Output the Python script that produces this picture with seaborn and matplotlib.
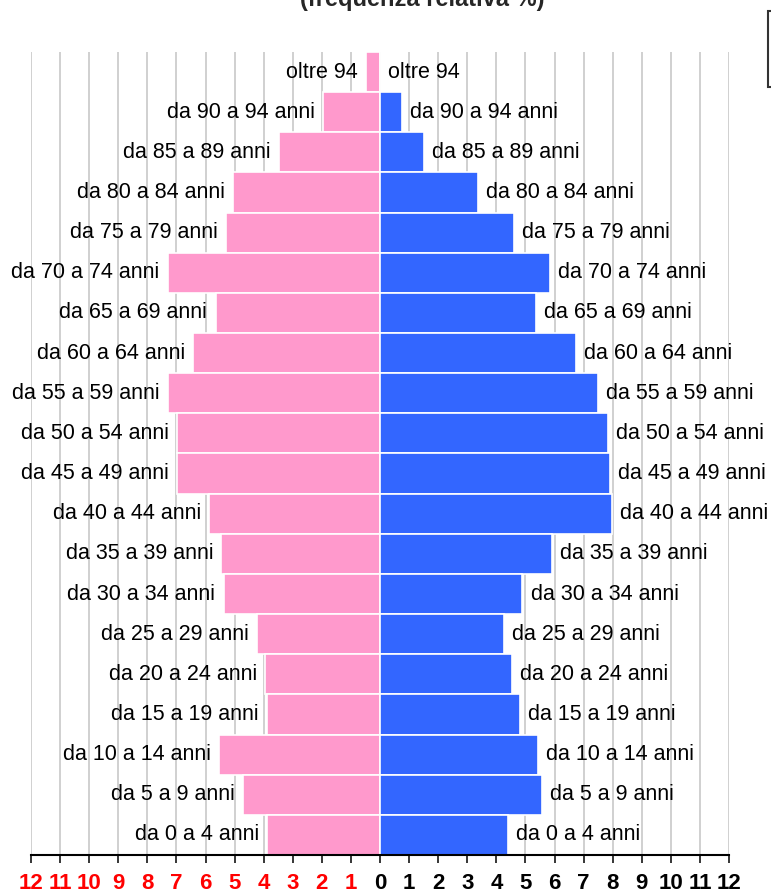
import matplotlib
matplotlib.use("Agg")
import matplotlib.pyplot as plt
import matplotlib.patches as mpatches
import seaborn as sns
import pandas as pd

# classi di età, dall'alto verso il basso
eta = ["oltre 94", "da 90 a 94 anni", "da 85 a 89 anni", "da 80 a 84 anni",
       "da 75 a 79 anni", "da 70 a 74 anni", "da 65 a 69 anni", "da 60 a 64 anni",
       "da 55 a 59 anni", "da 50 a 54 anni", "da 45 a 49 anni", "da 40 a 44 anni",
       "da 35 a 39 anni", "da 30 a 34 anni", "da 25 a 29 anni", "da 20 a 24 anni",
       "da 15 a 19 anni", "da 10 a 14 anni", "da 5 a 9 anni", "da 0 a 4 anni"]

# frequenza relativa %
femmine = [0.48, 1.95, 3.46, 5.04, 5.30, 7.30, 5.65, 6.42, 7.30, 6.97,
           6.97, 5.87, 5.45, 5.37, 4.22, 3.94, 3.87, 5.52, 4.70, 3.87]
maschi = [0.0, 0.76, 1.51, 3.37, 4.60, 5.84, 5.35, 6.74, 7.49, 7.83,
          7.90, 7.98, 5.90, 4.89, 4.25, 4.53, 4.80, 5.42, 5.57, 4.39]

tick_valori = list(range(-12, 13))

rosa = "#FF99CC"
blu = "#3366FF"

df = pd.DataFrame({
    "eta": eta + eta,
    "valore": [-v for v in femmine] + maschi,
    "sesso": ["Femmine"] * len(eta) + ["Maschi"] * len(eta),
})

sns.set_style("white")
plt.rcParams["font.family"] = ["Liberation Sans", "DejaVu Sans"]

fig = plt.figure(figsize=(7.71, 8.96), dpi=100)
ax = fig.add_axes([31 / 771, 1 - 855 / 896, 698 / 771, 803 / 896])

sns.barplot(data=df, y="eta", x="valore", hue="sesso", order=eta,
            palette={"Femmine": rosa, "Maschi": blu}, dodge=False, saturation=1,
            width=1.0, edgecolor="white", linewidth=1.2, orient="h", ax=ax)

ax.set_xlim(-12, 12)
ax.set_ylim(len(eta) - 0.5, -0.5)

# etichette accanto alle barre
for i, nome in enumerate(eta):
    ax.annotate(nome, xy=(-femmine[i], i), xytext=(-6, 0), textcoords="offset points",
                ha="right", va="center", fontsize=15.5, color="black")
    ax.annotate(nome, xy=(maschi[i], i), xytext=(6, 0), textcoords="offset points",
                ha="left", va="center", fontsize=15.5, color="black")

ax.set_xticks(tick_valori)
ax.set_xticklabels([str(abs(v)) for v in tick_valori], fontweight="bold", fontsize=16)
for lbl, v in zip(ax.get_xticklabels(), tick_valori):
    lbl.set_color("red" if v < 0 else "black")

ax.tick_params(axis="x", direction="out", length=6, width=1.1, color="black", pad=7, bottom=True)
ax.tick_params(axis="y", left=False, labelleft=False)
ax.set_xlabel("")
ax.set_ylabel("")

ax.xaxis.grid(True, color="#c8c8c8", linewidth=1.2)
ax.yaxis.grid(False)
ax.set_axisbelow(True)

for s in ["left", "top", "right"]:
    ax.spines[s].set_visible(False)
ax.spines["bottom"].set_color("black")
ax.spines["bottom"].set_linewidth(1.5)

# legenda (quasi tutta fuori dal riquadro, come nell'originale)
ax.get_legend().remove()
handles = [mpatches.Patch(color=blu, label="Maschi"), mpatches.Patch(color=rosa, label="Femmine")]
leg = fig.legend(handles=handles, loc="upper left", bbox_to_anchor=(768 / 771, 1 - 11 / 896),
                 bbox_transform=fig.transFigure, borderaxespad=0, fancybox=False,
                 fontsize=15.5, frameon=True, labelspacing=0.6, borderpad=0.5)
leg.get_frame().set_edgecolor("black")
leg.get_frame().set_linewidth(1.5)

fig.text(422 / 771, 1 - 6 / 896, "(frequenza relativa %)", ha="center", va="baseline",
         fontsize=17, fontweight="bold")

fig.savefig("out.png", dpi=100)
